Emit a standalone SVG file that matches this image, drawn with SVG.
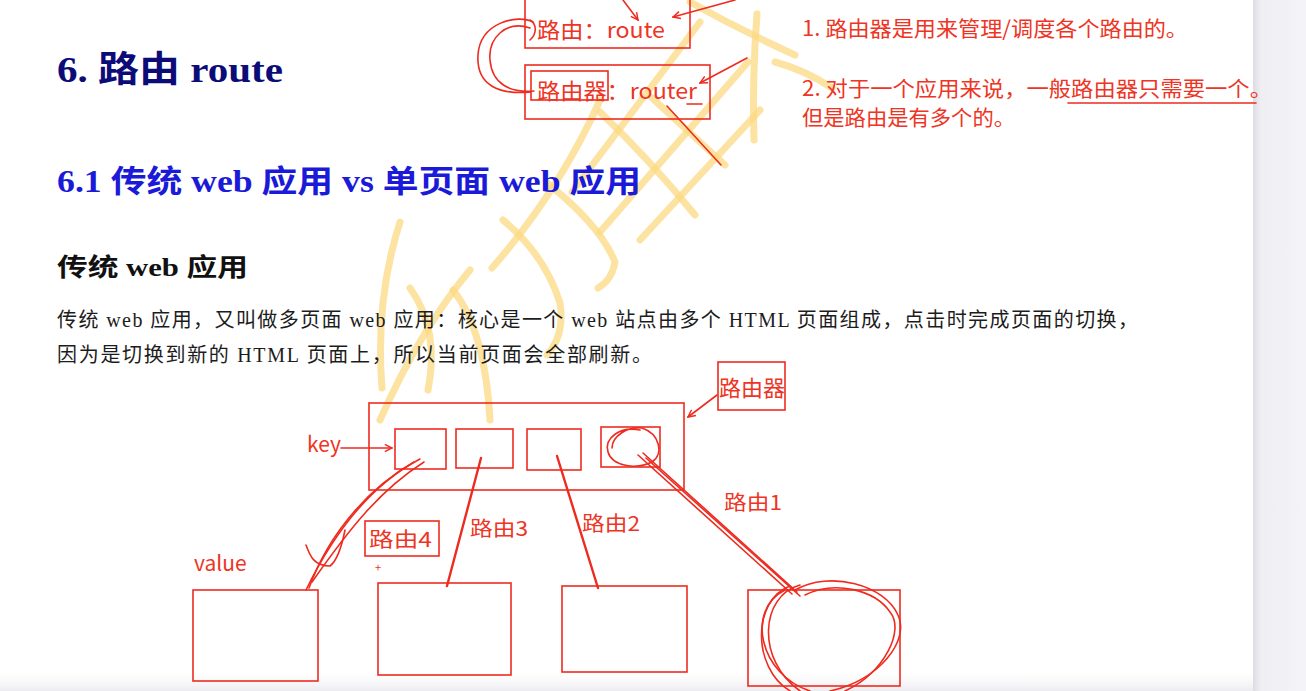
<svg xmlns="http://www.w3.org/2000/svg" width="1306" height="691" viewBox="0 0 1306 691">
<defs>
<style>
.red{fill:#ee3424;font-family:"Noto Sans CJK SC","Noto Sans",sans-serif}
.box{fill:none;stroke:#ee2b1f;stroke-width:1.6}
.ln{fill:none;stroke:#ee2b1f;stroke-width:1.6;stroke-linecap:round;stroke-linejoin:round}
.thick{fill:none;stroke:#ee2b1f;stroke-width:2.4;stroke-linecap:round}
.doc{font-family:"Liberation Serif","Noto Sans CJK SC",serif}
.wm{fill:none;stroke:#fcd981;stroke-width:7;stroke-linecap:round;stroke-linejoin:round;opacity:0.75}
</style>
<marker id="arr" viewBox="0 0 10 10" refX="9" refY="5" markerWidth="9" markerHeight="9" orient="auto" markerUnits="userSpaceOnUse">
<path d="M1,1 L9,5 L1,9" fill="none" stroke="#ee2b1f" stroke-width="1.6"/>
</marker>
<linearGradient id="side" x1="0" y1="0" x2="1" y2="0">
<stop offset="0" stop-color="#dcdce2"/>
<stop offset="0.15" stop-color="#eeeef3"/>
<stop offset="1" stop-color="#f4f4f8"/>
</linearGradient>
<linearGradient id="bot" x1="0" y1="0" x2="0" y2="1">
<stop offset="0" stop-color="#ffffff" stop-opacity="0"/>
<stop offset="1" stop-color="#ececf0"/>
</linearGradient>
</defs>

<!-- page background -->
<rect x="0" y="0" width="1306" height="691" fill="#ffffff"/>
<rect x="1253" y="0" width="53" height="691" fill="url(#side)"/>
<rect x="0" y="668" width="1253" height="23" fill="url(#bot)"/>

<!-- watermark -->
<g id="watermark">
<path class="wm" d="M572 192 L700 22"/>
<path class="wm" d="M600 232 L748 62"/>
<path class="wm" d="M640 240 L760 110"/>
<path class="wm" d="M600 112 Q650 160 695 215"/>
<path class="wm" d="M652 98 L725 165"/>
<path class="wm" d="M690 2 Q740 30 795 55"/>
<path class="wm" d="M757 14 Q752 80 754 140"/>
<path class="wm" d="M775 62 Q805 70 832 88"/>
<path class="wm" d="M600 100 Q560 190 492 268"/>
<path class="wm" d="M547 183 Q600 225 615 262 Q612 280 598 288"/>
<path class="wm" d="M503 220 Q545 255 560 303 Q565 335 547 355"/>
<path class="wm" d="M453 290 Q485 330 490 420"/>
<path class="wm" d="M400 222 Q375 300 382 388"/>
<path class="wm" d="M410 288 Q440 330 428 390"/>
<path class="wm" d="M380 420 Q420 330 470 270"/>
</g>

<!-- document text -->
<g id="doc-text">
<text class="doc" x="57" y="82" font-size="36" font-weight="bold" fill="#0c0c78" textLength="226" lengthAdjust="spacingAndGlyphs">6.  路由 route</text>
<text class="doc" x="57" y="192" font-size="31" font-weight="bold" fill="#1a1ad8" textLength="584" lengthAdjust="spacingAndGlyphs">6.1  传统 web 应用 vs 单页面 web 应用</text>
<text class="doc" x="57" y="276" font-size="25" font-weight="bold" fill="#111111" textLength="191" lengthAdjust="spacingAndGlyphs">传统 web 应用</text>
<text class="doc" x="57" y="327" font-size="20" fill="#1c1c1c" textLength="1081" lengthAdjust="spacing">传统 web 应用，又叫做多页面 web 应用：核心是一个 web 站点由多个 HTML 页面组成，点击时完成页面的切换，</text>
<text class="doc" x="57" y="362" font-size="20" fill="#1c1c1c" textLength="595" lengthAdjust="spacing">因为是切换到新的 HTML 页面上，所以当前页面会全部刷新。</text>
</g>

<!-- top annotation nodes -->
<g id="node-route">
<rect class="box" x="525" y="-4" width="165" height="52"/>
<text class="red" x="537" y="38" font-size="22" textLength="128" lengthAdjust="spacingAndGlyphs">路由：route</text>
</g>
<g id="node-router">
<rect class="box" x="525" y="65" width="185" height="54"/>
<rect class="box" x="531" y="71" width="77" height="29"/>
<text class="red" x="537" y="99" font-size="22" textLength="160" lengthAdjust="spacingAndGlyphs">路由器：router</text>
<path class="ln" d="M687 104 L702 104"/>
</g>
<g id="note-1">
<text class="red" x="802" y="36" font-size="21" textLength="386" lengthAdjust="spacingAndGlyphs">1. 路由器是用来管理/调度各个路由的。</text>
</g>
<g id="note-2">
<text class="red" x="802" y="96" font-size="21" textLength="470" lengthAdjust="spacingAndGlyphs">2. 对于一个应用来说，一般路由器只需要一个。</text>
<text class="red" x="802" y="125" font-size="21" textLength="213" lengthAdjust="spacingAndGlyphs">但是路由是有多个的。</text>
<path class="ln" d="M1068 103 L1256 103"/>
</g>

<!-- lower diagram nodes -->
<g id="node-router-label">
<rect class="box" x="718" y="362" width="67" height="48"/>
<text class="red" x="719" y="396" font-size="22" textLength="66" lengthAdjust="spacingAndGlyphs">路由器</text>
</g>
<g id="node-router-box">
<rect class="box" x="369" y="403" width="315" height="87"/>
</g>
<g id="node-key1"><rect class="box" x="395" y="429" width="51" height="40"/></g>
<g id="node-key2"><rect class="box" x="456" y="429" width="57" height="39"/></g>
<g id="node-key3"><rect class="box" x="527" y="429" width="54" height="41"/></g>
<g id="node-key4">
<rect class="box" x="601" y="427" width="59" height="40"/>
<path class="ln" d="M640 430 C620 426 604 438 608 452 C612 466 636 470 652 462 C664 454 660 434 642 428 C628 426 612 436 612 448"/>
</g>
<g id="label-key"><text class="red" x="307" y="452" font-size="21">key</text></g>
<g id="label-value"><text class="red" x="194" y="571" font-size="21">value</text></g>
<g id="label-route1"><text class="red" x="724" y="510" font-size="20" textLength="58" lengthAdjust="spacingAndGlyphs">路由1</text></g>
<g id="label-route2"><text class="red" x="582" y="531" font-size="20" textLength="58" lengthAdjust="spacingAndGlyphs">路由2</text></g>
<g id="label-route3"><text class="red" x="470" y="536" font-size="20" textLength="58" lengthAdjust="spacingAndGlyphs">路由3</text></g>
<g id="label-route4">
<rect class="box" x="365" y="521" width="74" height="35"/>
<text class="red" x="369" y="547" font-size="20" textLength="63" lengthAdjust="spacingAndGlyphs">路由4</text>
<text class="red" x="375" y="572" font-size="11">+</text>
</g>
<g id="node-page1"><rect class="box" x="193" y="590" width="125" height="91"/></g>
<g id="node-page2"><rect class="box" x="378" y="583" width="133" height="92"/></g>
<g id="node-page3"><rect class="box" x="562" y="586" width="125" height="86"/></g>
<g id="node-page4"><rect class="box" x="748" y="590" width="152" height="96"/></g>

<!-- connectors -->
<g id="connectors">
<path class="ln" d="M623 0 L638 20" marker-end="url(#arr)"/>
<path class="ln" d="M735 0 L673 17" marker-end="url(#arr)"/>
<path class="ln" d="M747 58 L700 83" marker-end="url(#arr)"/>
<path class="ln" d="M667 106 L721 165"/>
<path class="ln" d="M533 22 C518 14 480 22 478 55 C476 86 500 95 531 92"/>
<path class="ln" d="M530 28 C506 20 488 38 490 60 C492 84 510 93 534 91"/>
<path class="ln" d="M530 20 C537 24 537 34 530 40"/>
<path class="ln" d="M341 448 L392 448" marker-end="url(#arr)"/>
<path class="ln" d="M717 395 L688 417" marker-end="url(#arr)"/>
<path class="thick" d="M481 458 L447 586"/>
<path class="thick" d="M557 456 L598 588"/>
<path class="ln" d="M420 459 C380 480 340 520 306 590"/>
<path class="ln" d="M414 462 C372 486 330 530 309 588"/>
<path class="ln" d="M424 462 C380 490 350 528 312 582"/>
<path class="ln" d="M306 545 C310 556 314 566 330 566 C338 560 342 545 345 530"/>
<path class="ln" d="M638 455 L792 594"/>
<path class="ln" d="M643 453 L797 592"/>
<path class="ln" d="M646 458 L800 596"/>
<path class="ln" d="M790 586 C752 600 752 668 790 691 M830 691 C880 680 910 640 898 615 C885 585 830 570 795 590"/>
<path class="ln" d="M800 585 C760 596 756 660 800 691 M845 691 C885 672 905 630 890 612 C875 590 835 580 805 595"/>
<path class="ln" d="M785 590 C745 610 760 675 810 691"/>
</g>
</svg>
